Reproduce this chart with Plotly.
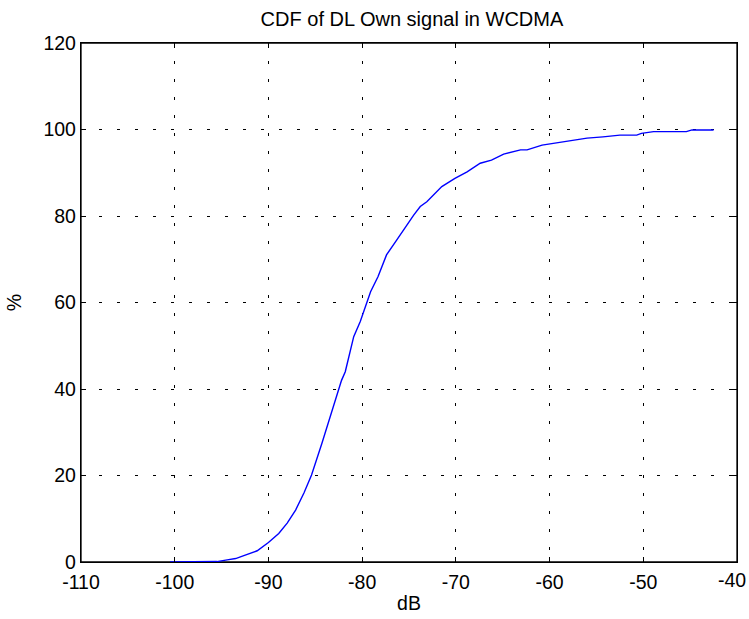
import plotly.graph_objects as go

# CDF of downlink own-signal level (dB) and cumulative percentage
db_values = [-100.5, -98, -96, -95.5, -94.4, -93.5, -92.7, -91.2, -90, -88.9,
             -88, -87.1, -86.2, -85.4, -84.3, -83.8, -82.8, -82.2, -81.8, -80.9,
             -80.2, -79.5, -79.1, -78.3, -77.4, -76.3, -75.4, -74.5, -73.8, -73.1,
             -71.5, -70.1, -68.8, -67.4, -66.2, -64.9, -63.1, -62.4, -60.8, -59.6,
             -58.2, -57.3, -56.0, -54.3, -52.5, -50.7, -50.2, -48.9, -45.4, -44.8,
             -42.5]
cdf_percent = [0, 0, 0, 0.1, 0.5, 0.8, 1.4, 2.6, 4.5, 6.6,
               9.0, 12.0, 16.0, 20.1, 27.4, 30.9, 37.5, 42.0, 44.0, 52.1,
               55.6, 60.2, 62.5, 66.0, 71.0, 74.5, 77.5, 80.2, 82.2, 83.3,
               86.8, 88.7, 90.2, 92.2, 92.9, 94.3, 95.3, 95.3, 96.4, 96.8,
               97.2, 97.6, 98.0, 98.3, 98.7, 98.7, 99.1, 99.5, 99.5, 99.9,
               99.9]

x_ticks = [-110, -100, -90, -80, -70, -60, -50, -40]
# last label is placed separately (nudged left so it stays inside the page)
x_tick_labels = ["-110", "-100", "-90", "-80", "-70", "-60", "-50", ""]
last_x_label = "-40"
y_ticks = [0, 20, 40, 60, 80, 100, 120]
y_tick_labels = ["0", "20", "40", "60", "80", "100", "120"]

FONT = "Liberation Sans, Arial, Helvetica, sans-serif"
FSIZE = 19.5

fig = go.Figure()
fig.add_trace(go.Scatter(
    x=db_values, y=cdf_percent, mode="lines",
    line=dict(color="#0000ff", width=1.4),
    cliponaxis=False,
    showlegend=False,
))

axis_common = dict(
    showline=True, linecolor="black", linewidth=1.3, mirror="ticks",
    ticks="inside", ticklen=5, tickcolor="black", tickwidth=1,
    showgrid=True, gridcolor="black", gridwidth=1.3, griddash="3px,15px",
    zeroline=False, ticklabeloverflow="allow", automargin=False,
    tickfont=dict(family=FONT, size=FSIZE, color="black"),
)

fig.update_xaxes(range=[-110, -40], tickvals=x_ticks, ticktext=x_tick_labels,
                 ticklabelstandoff=2,
                 title=dict(text="dB", standoff=4,
                            font=dict(family=FONT, size=FSIZE, color="black")),
                 **axis_common)
fig.update_yaxes(range=[0, 120], tickvals=y_ticks, ticktext=y_tick_labels,
                 title=dict(text="%", standoff=16,
                            font=dict(family=FONT, size=FSIZE, color="black")),
                 **axis_common)

# axes box, kept under the data line so the flat part of the curve shows on the axis
fig.add_shape(type="rect", xref="paper", yref="paper", x0=0, x1=1, y0=0, y1=1,
              line=dict(color="black", width=1.3), layer="below")

fig.add_annotation(x=x_ticks[-1], y=0, xref="x", yref="y", text=last_x_label,
                   showarrow=False, xanchor="center", yanchor="top",
                   xshift=-5, yshift=-5,
                   font=dict(family=FONT, size=FSIZE, color="black"))

fig.update_layout(
    width=749, height=619,
    margin=dict(l=81, r=12, t=43, b=57),
    paper_bgcolor="white", plot_bgcolor="white",
    title=dict(text="CDF of DL Own signal in WCDMA", x=0.55, xanchor="center",
               y=0.969, yanchor="middle",
               font=dict(family=FONT, size=20, color="black")),
)

fig.write_html("out.html")
